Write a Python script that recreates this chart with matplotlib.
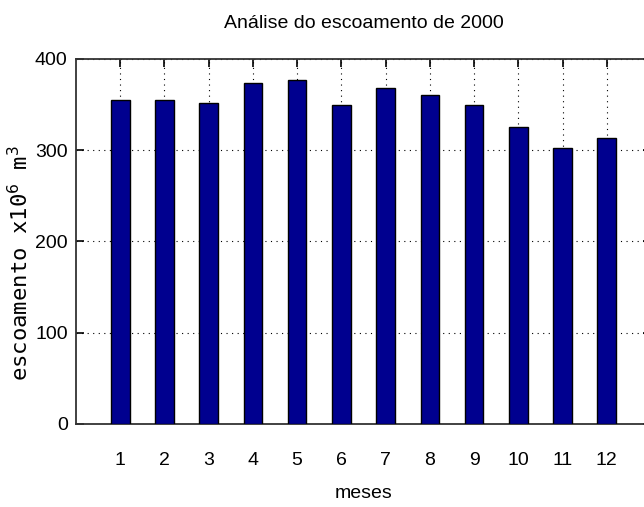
import matplotlib
matplotlib.use("Agg")
import matplotlib.pyplot as plt

# escoamento mensal de 2000 (x10^6 m^3)
meses = [1, 2, 3, 4, 5, 6, 7, 8, 9, 10, 11, 12]
escoamento = [355, 355, 352, 374, 377, 350, 368, 361, 350, 326, 302, 313]
yticks = [0, 100, 200, 300, 400]

COR_BARRA = "#00008F"
FONTE = ["Liberation Sans Narrow", "Liberation Sans", "DejaVu Sans"]

fig = plt.figure(figsize=(6.44, 5.07), dpi=100)
# eixo vai alem da borda direita (imagem original cortada)
ax = fig.add_axes([76 / 644, 83 / 507, 575 / 644, 365 / 507])

ax.bar(meses, escoamento, width=0.42, color=COR_BARRA,
       edgecolor="black", linewidth=1.0, zorder=3)

ax.set_xlim(0, 13)
ax.set_ylim(0, 400)
ax.set_xticks(meses)
ax.set_yticks(yticks)

ax.grid(True, linestyle=(0, (1, 4)), color="black", linewidth=0.8, zorder=0)
ax.set_axisbelow(True)

ax.tick_params(direction="in", length=6, width=1.2, top=True, right=True,
               labelsize=14)
ax.tick_params(axis="x", pad=20)
ax.tick_params(axis="y", pad=6)
for lab in ax.get_xticklabels() + ax.get_yticklabels():
    lab.set_family(FONTE)

for s in ax.spines.values():
    s.set_color("#333333")
    s.set_linewidth(1.3)

ax.set_title("Análise do escoamento de 2000", family=FONTE, fontsize=14, pad=22)
ax.set_xlabel("meses", family=FONTE, fontsize=14, labelpad=12)

fig.text(20 / 644, 1 - 263 / 507, r"escoamento x10$^6$ m$^3$",
         rotation=90, ha="center", va="center",
         family="DejaVu Sans Mono", fontsize=16)

fig.savefig("out.png", dpi=100)
